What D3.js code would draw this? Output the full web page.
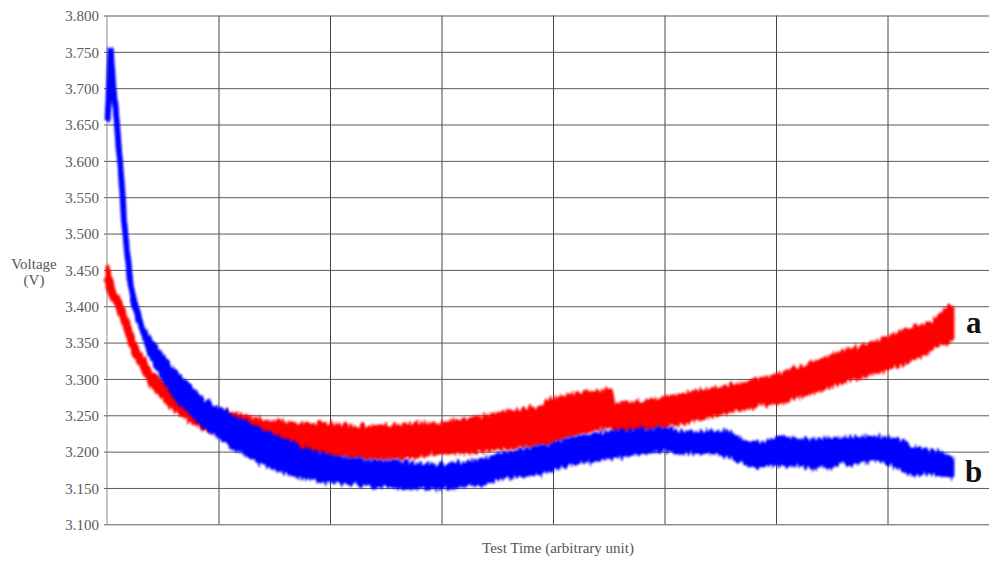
<!DOCTYPE html>
<html>
<head>
<meta charset="utf-8">
<script src="https://cdn.jsdelivr.net/npm/d3@7"></script>
<style>
  body { margin: 0; background: #fff; }
  svg { display: block; font-family: "Liberation Serif", "DejaVu Serif", serif; }
</style>
</head>
<body>
<div class="chart"></div>
<script>
// test time (arbitrary unit) and the voltage band (upper / lower edge) of each trace
const timeA = [0, 0.06, 0.14, 0.233, 0.386, 0.565, 0.744, 0.924, 1.13, 1.435, 1.731, 2.027, 2.332, 2.628, 2.987,
  3.283, 3.587, 3.883, 3.95, 4.179, 4.484, 4.52, 4.55, 4.78, 5.022, 5.139, 5.435, 5.74, 6.0, 6.332, 6.637,
  6.933, 7.229, 7.381, 7.561, 7.587];
const highA = [3.455, 3.425, 3.398, 3.355, 3.312, 3.287, 3.265, 3.252, 3.252, 3.243, 3.239, 3.237, 3.234, 3.237, 3.239,
  3.246, 3.255, 3.261, 3.272, 3.278, 3.285, 3.285, 3.267, 3.268, 3.275, 3.278, 3.287, 3.296, 3.305, 3.322, 3.34,
  3.353, 3.371, 3.375, 3.402, 3.40];
const lowA = [3.425, 3.405, 3.382, 3.335, 3.292, 3.263, 3.241, 3.228, 3.222, 3.212, 3.202, 3.195, 3.192, 3.191, 3.198,
  3.199, 3.205, 3.209, 3.212, 3.223, 3.233, 3.233, 3.229, 3.23, 3.236, 3.239, 3.25, 3.26, 3.268, 3.281, 3.298,
  3.31, 3.326, 3.339, 3.353, 3.355];

const timeB = [0.005, 0.033, 0.057, 0.087, 0.11, 0.135, 0.152, 0.182, 0.213, 0.25, 0.36, 0.565, 0.834, 1.13, 1.435,
  1.731, 2.027, 2.332, 2.628, 2.987, 3.283, 3.587, 3.883, 4.179, 4.484, 4.78, 5.022, 5.139, 5.435, 5.587, 5.74,
  5.883, 6.036, 6.332, 6.637, 6.933, 7.08, 7.229, 7.381, 7.561, 7.587];
const highB = [3.655, 3.752, 3.702, 3.656, 3.61, 3.564, 3.519, 3.473, 3.427, 3.405, 3.36, 3.318, 3.275, 3.248, 3.226,
  3.206, 3.193, 3.188, 3.186, 3.181, 3.186, 3.198, 3.206, 3.219, 3.226, 3.23, 3.232, 3.227, 3.227, 3.226, 3.213,
  3.212, 3.22, 3.216, 3.219, 3.22, 3.216, 3.206, 3.202, 3.193, 3.19];
const lowB = [3.655, 3.752, 3.702, 3.656, 3.61, 3.564, 3.519, 3.473, 3.427, 3.395, 3.34, 3.283, 3.239, 3.206, 3.179,
  3.165, 3.157, 3.154, 3.151, 3.150, 3.154, 3.164, 3.17, 3.184, 3.191, 3.198, 3.202, 3.198, 3.199, 3.193, 3.182,
  3.179, 3.184, 3.177, 3.184, 3.188, 3.179, 3.168, 3.171, 3.165, 3.166];

const voltTicks = d3.range(0, 15).map(i => 3.1 + i * 0.05);
const timeTicks = [1, 2, 3, 4, 5, 6, 7, 8];

const serif = '"Liberation Serif", "DejaVu Serif", serif';

const W = 989, H = 569;
const margin = {top: 15.5, left: 107, right: -10, bottom: 44.7};
const plotW = W - margin.left - margin.right;
const plotH = H - margin.top - margin.bottom;

const x = d3.scaleLinear().domain([0, 8]).range([0, plotW]);
const y = d3.scaleLinear().domain([3.1, 3.8]).range([plotH, 0]);

const svg = d3.select('.chart').append('svg')
    .attr('width', W)
    .attr('height', H);

// noisy edge for the traces
const defs = svg.append('defs');
const filt = defs.append('filter')
    .attr('id', 'noisy')
    .attr('x', '-5%').attr('y', '-20%')
    .attr('width', '110%').attr('height', '140%');
filt.append('feTurbulence')
    .attr('type', 'fractalNoise')
    .attr('baseFrequency', '0.42 0.05')
    .attr('numOctaves', 2)
    .attr('seed', 4)
    .attr('result', 'turb');
filt.append('feColorMatrix')
    .attr('in', 'turb')
    .attr('type', 'matrix')
    .attr('values', '0 0 0 0 0.5  0 1 0 0 0  0 0 0 0 0  0 0 0 0 1')
    .attr('result', 'map');
filt.append('feDisplacementMap')
    .attr('in', 'SourceGraphic')
    .attr('in2', 'map')
    .attr('scale', 12)
    .attr('xChannelSelector', 'R')
    .attr('yChannelSelector', 'G')
    .attr('result', 'disp');
filt.append('feGaussianBlur')
    .attr('in', 'disp')
    .attr('stdDeviation', 0.9);

const g = svg.append('g')
    .attr('transform', `translate(${margin.left}, ${margin.top})`);

// vertical grid
const xGrid = g.append('g')
    .attr('transform', `translate(0, ${plotH})`)
    .call(d3.axisBottom(x).tickValues(timeTicks).tickSize(-plotH).tickFormat(''));
xGrid.select('.domain').remove();
xGrid.selectAll('line').attr('stroke', '#444');

// horizontal grid + labels
const yAxis = g.append('g')
    .call(d3.axisLeft(y).tickValues(voltTicks).tickSize(-plotW).tickPadding(8)
      .tickFormat(d3.format('.3f')));
yAxis.select('.domain').remove();
yAxis.selectAll('.tick line')
    .attr('x1', -3)
    .attr('stroke', '#5a5a5a');
yAxis.selectAll('.tick text')
    .attr('dy', '0.35em')
    .style('font-family', serif)
    .style('font-size', '15px')
    .style('fill', '#5a5a5a');

g.append('line')
    .attr('x1', 0).attr('x2', 0)
    .attr('y1', 0).attr('y2', plotH)
    .attr('stroke', '#8a8a8a');

function band(times, high, low) {
  return times.map((t, i) => ({t: t, hi: high[i], lo: low[i]}));
}

const traces = [
  {name: 'a', color: '#ff0000', width: 8, data: band(timeA, highA, lowA)},
  {name: 'b', color: '#0000ff', width: 6, data: band(timeB, highB, lowB)}
];

const area = d3.area()
  .x(d => x(d.t))
  .y0(d => y(d.lo))
  .y1(d => y(d.hi));

const mid = d3.line()
  .x(d => x(d.t))
  .y(d => y((d.hi + d.lo) / 2));

const trace = g.selectAll('.trace')
  .data(traces)
  .enter().append('g')
    .attr('class', 'trace')
    .attr('filter', 'url(#noisy)');

trace.append('path')
    .attr('d', d => area(d.data))
    .attr('fill', d => d.color)
    .attr('stroke', d => d.color)
    .attr('stroke-width', 3);

trace.append('path')
    .attr('d', d => mid(d.data))
    .attr('fill', 'none')
    .attr('stroke', d => d.color)
    .attr('stroke-width', d => d.width)
    .attr('stroke-linejoin', 'round');

// trace labels
svg.append('text')
    .attr('x', 966).attr('y', 333)
    .style('font-family', serif)
    .attr('font-size', 31).attr('font-weight', 'bold')
    .attr('fill', '#111')
    .text('a');
svg.append('text')
    .attr('x', 965).attr('y', 482)
    .style('font-family', serif)
    .attr('font-size', 31).attr('font-weight', 'bold')
    .attr('fill', '#111')
    .text('b');

// axis titles
const yTitle = svg.append('text')
    .attr('text-anchor', 'middle')
    .style('font-family', serif)
    .attr('font-size', 15)
    .attr('fill', '#555');
yTitle.append('tspan').attr('x', 34).attr('y', 269).text('Voltage');
yTitle.append('tspan').attr('x', 34).attr('y', 285).text('(V)');

svg.append('text')
    .attr('x', 558).attr('y', 553)
    .attr('text-anchor', 'middle')
    .style('font-family', serif)
    .attr('font-size', 15)
    .attr('fill', '#555')
    .text('Test Time (arbitrary unit)');
</script>
</body>
</html>
